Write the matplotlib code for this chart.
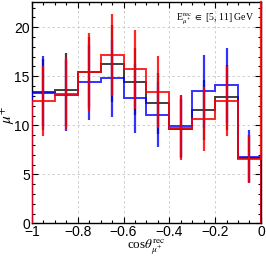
import numpy as np
import matplotlib
matplotlib.use("Agg")
import matplotlib.pyplot as plt
from matplotlib.ticker import MultipleLocator

plt.rcParams["mathtext.fontset"] = "stix"

edges = [-1.0, -0.9, -0.8, -0.7, -0.6, -0.5, -0.4, -0.3, -0.2, -0.1, 0.0]
black_vals = [13.35, 13.65, 15.4, 16.3, 14.45, 12.26, 9.65, 11.57, 12.87, 6.65]
black_errs = [3.4, 3.77, 3.6, 3.9, 3.4, 3.1, 3.0, 3.1, 3.3, 2.4]
blue_vals = [13.3, 13.05, 14.38, 14.79, 12.74, 11.09, 9.9, 13.46, 14.07, 6.81]
blue_errs = [3.8, 3.6, 3.8, 3.94, 3.55, 3.3, 3.15, 3.7, 3.8, 2.7]
red_vals = [12.46, 13.2, 15.41, 17.19, 15.72, 13.39, 9.72, 10.68, 12.46, 6.53]
red_errs = [3.6, 3.7, 4.0, 4.18, 4.04, 3.7, 3.25, 3.27, 3.6, 2.44]

xticks = [-1, -0.8, -0.6, -0.4, -0.2, 0]
xticklabels = ["\u22121", "\u22120.8", "\u22120.6", "\u22120.4", "\u22120.2", "0"]
yticks = [0, 5, 10, 15, 20]

fig = plt.figure(figsize=(2.66, 2.57), dpi=100)
ax = fig.add_axes([0.120, 0.131, 0.861, 0.862])

edges_a = np.array(edges)
centers = 0.5 * (edges_a[:-1] + edges_a[1:])

series = [
    (black_vals, black_errs, "black", 0.75),
    (blue_vals, blue_errs, "#0000ff", 0.8),
    (red_vals, red_errs, "#ff0000", 0.85),
]
for vals, errs, col, a in series:
    ax.stairs(vals, edges_a, color=col, lw=1.4, alpha=a, zorder=3)
    ax.errorbar(centers, vals, yerr=errs, fmt="none", ecolor=col,
                elinewidth=1.6, capsize=0, alpha=a, zorder=3)

ymax = 22.6
ax.plot([edges_a[-1], edges_a[-1]], [red_vals[-1], ymax], color="#ff0000",
        lw=1.6, alpha=0.85, zorder=4, clip_on=False)

ax.set_xlim(-1, 0)
ax.set_ylim(0, ymax)
ax.set_xticks(xticks)
ax.set_xticklabels(xticklabels)
ax.set_yticks(yticks)
ax.xaxis.set_minor_locator(MultipleLocator(0.05))
ax.yaxis.set_minor_locator(MultipleLocator(1))
ax.tick_params(which="both", direction="in", top=True, right=True,
               labelsize=10, pad=1.5, colors="black")
ax.tick_params(which="major", length=4.5, width=0.8)
ax.tick_params(which="minor", length=2.5, width=0.8)
for lab in ax.get_xticklabels() + ax.get_yticklabels():
    lab.set_fontfamily("Liberation Sans")
ax.grid(True, which="major", ls=(0, (3, 3)), color="#c8c8c8", lw=0.6)
for s in ax.spines.values():
    s.set_linewidth(1.0)

ax.set_xlabel(r"cos$\theta^{\rm rec}_{\mu^{+}}$", fontsize=9.5,
              fontfamily="Liberation Serif")
ax.xaxis.set_label_coords(0.5, -0.068, transform=ax.transAxes)
ax.xaxis.label.set_va("top")
ax.set_ylabel(r"$\mu^{+}$", fontsize=11)
ax.yaxis.set_label_coords(-0.065, 0.49, transform=ax.transAxes)
ax.text(0.97, 0.955, r"E$^{\rm rec}_{\mu^{+}}$ $\in$ [5, 11] GeV",
        transform=ax.transAxes, ha="right", va="top", fontsize=7,
        fontfamily="Liberation Serif", zorder=5)

fig.savefig("out.png", dpi=100)
